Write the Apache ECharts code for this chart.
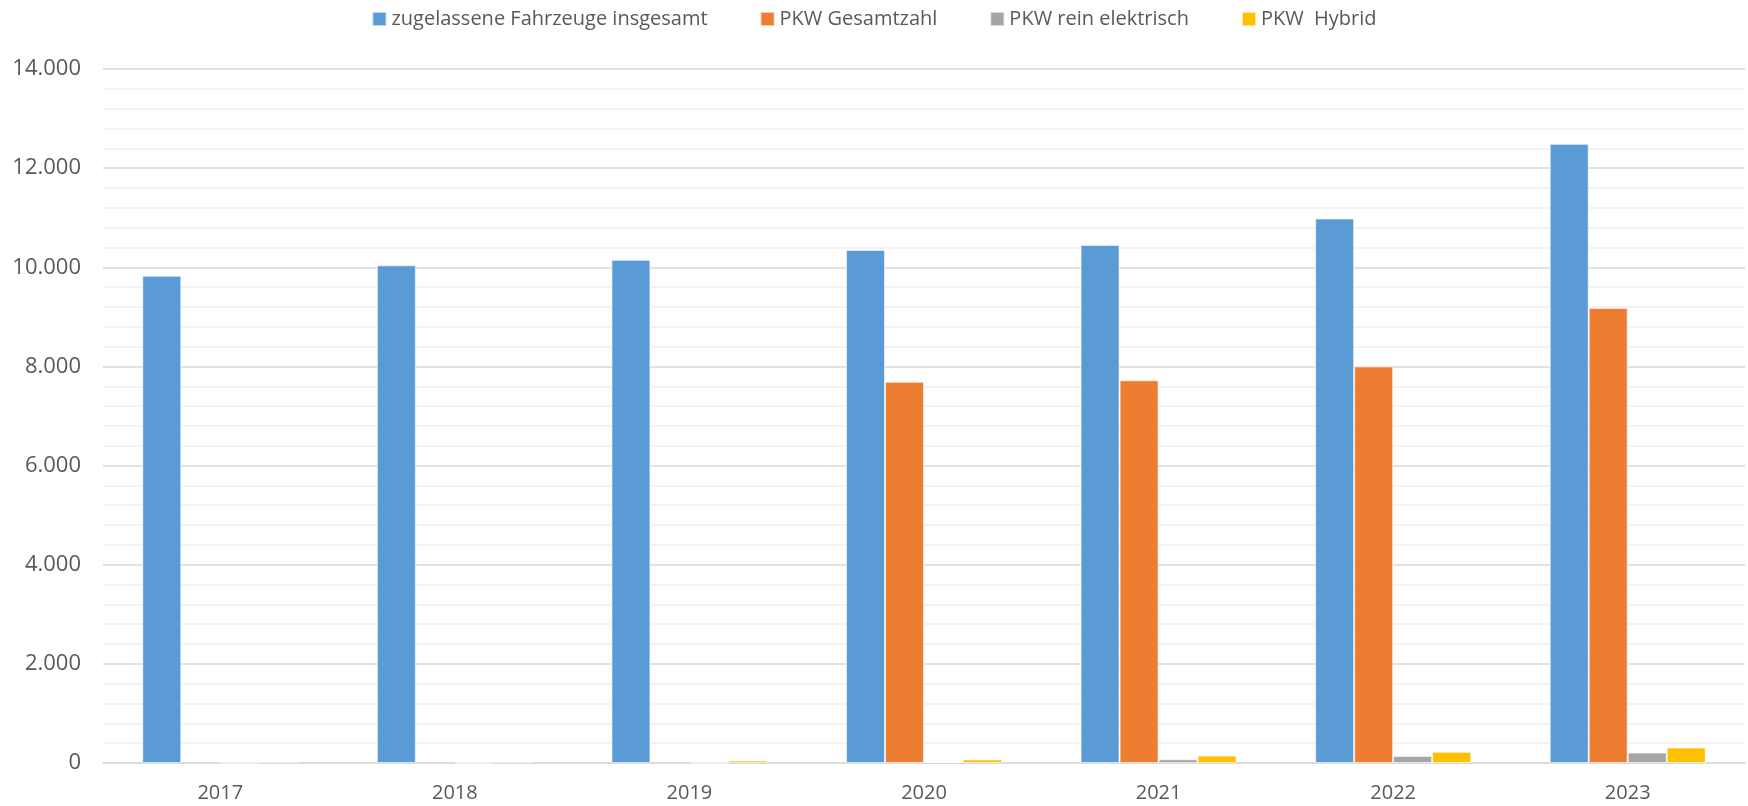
<!DOCTYPE html>
<html>
<head>
<meta charset="utf-8">
<title>Zugelassene Fahrzeuge</title>
<script src="https://cdn.jsdelivr.net/npm/echarts@6/dist/echarts.min.js"></script>
<style>
    html, body { margin: 0; padding: 0; background: #fff; }
    #chart { width: 1748px; height: 806px; }
</style>
</head>
<body>
<div id="chart"></div>
<script>
// Data
const years = ['2017', '2018', '2019', '2020', '2021', '2022', '2023'];
const seriesNames = ['zugelassene Fahrzeuge insgesamt', 'PKW Gesamtzahl', 'PKW rein elektrisch', 'PKW  Hybrid'];
const fahrzeugeGesamt = [9830, 10040, 10150, 10350, 10450, 10985, 12490];
const pkwGesamt = [null, null, null, 7690, 7720, 8000, 9180];
const pkwElektrisch = [2, 3, 5, 20, 75, 140, 210];
const pkwHybrid = [28, 30, 50, 72, 150, 225, 312];
const colors = ['#5B9BD5', '#ED7D31', '#A5A5A5', '#FFC000'];

function formatThousands(value) {
    return String(value).replace(/\B(?=(\d{3})+(?!\d))/g, '.');
}

const chart = echarts.init(document.getElementById('chart'));
const font = '"Open Sans", sans-serif';
const values = [fahrzeugeGesamt, pkwGesamt, pkwElektrisch, pkwHybrid];

const option = {
    animation: false,
    color: colors,
    legend: {
        top: 4,
        left: 'center',
        itemWidth: 14,
        itemHeight: 14,
        itemGap: 52,
        icon: 'rect',
        textStyle: { fontFamily: font, fontSize: 20, color: '#595959' },
        data: seriesNames
    },
    grid: {
        left: 103,
        right: 3,
        top: 69,
        bottom: 43
    },
    xAxis: {
        type: 'category',
        data: years,
        axisTick: { show: false },
        axisLine: { lineStyle: { color: '#d9d9d9', width: 1.5 } },
        axisLabel: { fontFamily: font, fontSize: 20, color: '#595959', margin: 20 }
    },
    yAxis: {
        type: 'value',
        min: 0,
        max: 14000,
        interval: 2000,
        axisLine: { show: false },
        axisTick: { show: false },
        axisLabel: {
            fontFamily: font,
            fontSize: 22,
            color: '#595959',
            margin: 22,
            formatter: formatThousands
        },
        splitLine: { lineStyle: { color: '#d9d9d9', width: 1.5 } },
        minorTick: { show: false, splitNumber: 5 },
        minorSplitLine: { show: true, lineStyle: { color: '#f0f0f0', width: 1.5 } }
    },
    series: seriesNames.map((name, i) => ({
        name: name,
        type: 'bar',
        data: values[i],
        barGap: '0%',
        barCategoryGap: '33.5%',
        itemStyle: {
            color: colors[i],
            borderColor: 'rgba(255,255,255,0.6)',
            borderWidth: 1
        }
    }))
};

chart.setOption(option);
</script>
</body>
</html>
